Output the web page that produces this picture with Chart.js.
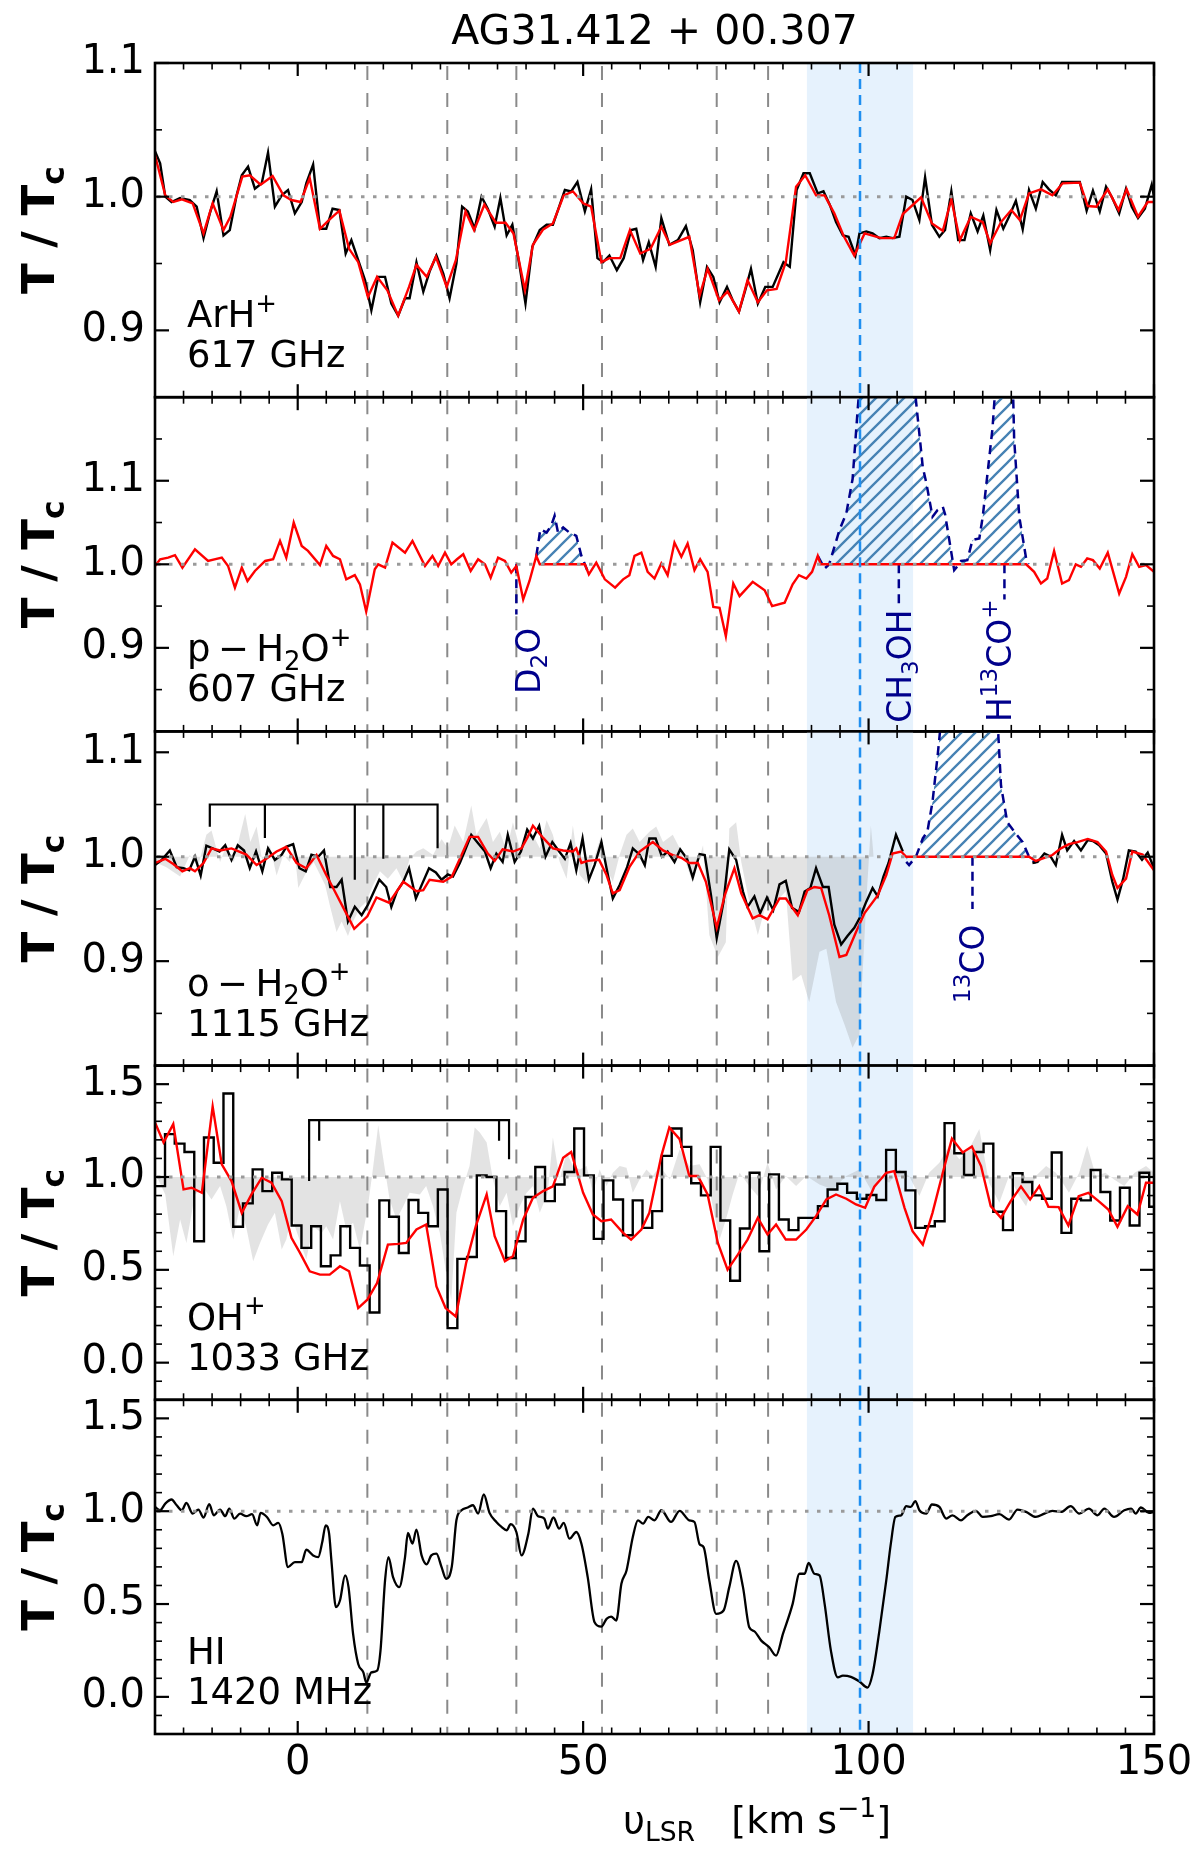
<!DOCTYPE html>
<html><head><meta charset="utf-8">
<script src="https://cdn.jsdelivr.net/npm/chart.js@4.4.1/dist/chart.umd.min.js"></script>
<style>
html,body{margin:0;padding:0;background:#fff;}
#wrap{position:relative;width:1200px;height:1851px;background:#fff;}
#wrap canvas{position:absolute;left:0;top:0;}
</style>
</head><body><div id="wrap"></div>
<script>
// ---------------- data ----------------
const xTickValues = [0, 50, 100, 150];
const yTicksNarrow = [0.9, 1.0, 1.1];
const yTicksWide = [0.0, 0.5, 1.0, 1.5];
const cloudVel = [12.2, 26.2, 38.3, 53.3, 73.4, 82.4];
const sourceVel = 98.5;
const sourceRange = [89.2, 107.8];

// ArH+ 617 GHz
const arhObs = [[-25.0,1.034],[-24.1,1.025],[-23.2,1.000],[-22.1,0.996],[-20.6,0.999],[-18.9,0.9975],[-17.7,0.9925],[-16.5,0.969],[-15.4,0.9875],[-14.2,1.004],
[-13.0,0.971],[-11.9,0.975],[-10.7,1.001],[-9.8,1.016],[-8.7,1.0225],[-7.5,1.006],[-6.3,1.010],[-5.2,1.033],[-4.0,0.9925],[-2.8,1.001],
[-1.7,1.005],[-0.5,0.9875],[0.7,0.996],[1.5,1.010],[2.7,1.024],[3.9,0.976],[5.0,0.976],[6.1,0.991],[7.3,0.990],[8.4,0.9575],
[9.4,0.9675],[10.6,0.9525],[11.8,0.9375],[12.9,0.915],[14.1,0.940],[15.3,0.940],[16.4,0.920],[17.6,0.911],[18.8,0.924],[19.6,0.924],
[20.8,0.951],[22.0,0.929],[23.1,0.944],[24.3,0.956],[25.5,0.9425],[26.6,0.924],[27.8,0.950],[28.8,0.9925],[29.8,0.989],[31.0,0.976],
[32.2,1.000],[33.3,0.991],[34.5,0.9775],[35.5,0.999],[36.6,0.971],[37.6,0.979],[38.8,0.950],[39.9,0.920],[41.1,0.9625],[42.4,0.975],
[43.6,0.979],[44.7,0.979],[45.8,0.9925],[46.8,1.005],[47.9,1.004],[49.0,1.011],[50.3,0.989],[51.4,1.0055],[52.5,0.954],[53.5,0.951],
[54.6,0.956],[55.9,0.945],[57.1,0.954],[58.4,0.975],[59.3,0.976],[60.5,0.9525],[61.5,0.966],[62.7,0.9475],[63.7,0.984],[65.1,0.964],
[66.6,0.9675],[68.0,0.978],[69.2,0.960],[70.5,0.921],[71.7,0.9475],[72.8,0.940],[73.9,0.921],[75.2,0.9325],[76.2,0.9225],[77.3,0.914],
[78.4,0.930],[79.4,0.946],[80.6,0.920],[81.9,0.9325],[83.2,0.9325],[85.1,0.951],[86.2,0.9475],[87.4,1.005],[88.6,1.0175],[89.7,1.0175],[91.1,1.0025],
[92.1,1.004],[93.2,0.994],[94.3,0.981],[95.5,0.971],[96.5,0.970],[97.7,0.956],[98.4,0.9725],[99.6,0.974],[100.7,0.9725],[101.9,0.969],
[103.1,0.970],[104.2,0.969],[105.4,0.970],[106.6,1.000],[107.7,0.9975],[108.9,0.9825],[109.9,1.0145],[111.1,0.979],[112.4,0.970],[113.4,0.975],
[114.5,1.004],[115.7,0.9675],[116.8,0.9675],[117.9,0.9875],[119.1,0.974],[120.1,0.986],[121.3,0.960],[122.4,0.990],[123.6,0.976],[124.6,0.985],
[125.8,0.997],[127.0,0.9755],[128.1,1.005],[129.3,0.991],[130.5,1.011],[131.6,1.0055],[132.8,1.001],[133.9,1.011],[135.1,1.011],[137.0,1.011],
[138.2,0.9895],[139.3,1.0045],[140.5,0.989],[141.6,1.0075],[142.7,0.999],[143.9,0.9875],[145.1,1.006],[146.1,0.9925],[147.2,0.984],[148.4,0.991],
[149.6,1.009],[150.0,1.000]];
const arhFit = [[-25,1.031],[-23.2,1.001],[-21.8,0.996],[-20.3,0.998],[-18.4,0.995],[-16.5,0.9725],[-14.9,0.995],[-13.0,0.975],[-11.8,0.985],[-9.7,1.015],
[-8.4,1.016],[-6.5,1.009],[-4.4,1.0155],[-2.5,1.001],[-1.1,0.9975],[0.5,0.996],[2.1,1.014],[3.9,0.976],[5.6,0.983],[7.3,0.9895],[9.0,0.961],
[10.6,0.951],[12.3,0.925],[13.9,0.940],[15.7,0.930],[17.6,0.911],[19.5,0.9325],[20.8,0.949],[22.6,0.940],[24.2,0.955],[26.1,0.9325],
[27.7,0.9525],[29.4,0.989],[30.9,0.975],[32.7,0.994],[34.7,0.9805],[36.4,0.9805],[37.8,0.9725],[39.8,0.930],[41.2,0.964],[43.0,0.9755],
[44.7,0.980],[46.6,1.001],[48.2,1.004],[50.0,0.995],[51.4,0.9925],[53.2,0.951],[54.6,0.954],[56.5,0.954],[58.2,0.975],[60.0,0.9575],
[61.8,0.961],[63.7,0.9775],[65.2,0.964],[68.6,0.970],[70.4,0.926],[71.8,0.946],[73.8,0.9225],[75.3,0.929],[77.3,0.914],[78.8,0.9375],
[80.6,0.921],[82.2,0.930],[83.9,0.931],[85.5,0.951],[87.3,1.0075],[88.9,1.016],[90.8,1.001],[92.3,1.001],[94.0,0.9875],[95.6,0.971],
[97.5,0.956],[99.3,0.9725],[102.2,0.969],[104.5,0.969],[106.0,0.987],[109.2,0.9995],[111.1,0.980],[113.0,0.9745],[114.5,0.998],[116.0,0.9675],
[117.9,0.985],[120.0,0.981],[121.3,0.965],[123.2,0.981],[125.0,0.990],[126.5,0.9825],[128.1,1.0025],[130.2,1.0055],[132.2,1.001],[134.0,1.010],
[137.0,1.0105],[138.4,0.993],[139.9,0.9925],[141.9,1.0055],[143.8,0.990],[145.2,1.0055],[147.2,0.985],[148.9,0.996],[150,0.996]];

// p-H2O+ 607 GHz
const pwFit = [[-25,0.998],[-24.1,1.006],[-22.7,1.008],[-21.5,1.011],[-20.2,0.996],[-18.0,1.018],[-15.7,1.004],[-13.3,1.008],[-12.2,0.998],[-11.0,0.972],
[-9.8,0.996],[-8.8,0.980],[-7.5,0.992],[-5.7,1.004],[-4.3,1.006],[-3.1,1.028],[-2.0,1.008],[-0.7,1.050],[0.7,1.022],[1.8,1.016],
[3.9,0.999],[5.0,1.022],[6.2,1.010],[7.4,1.006],[8.5,0.982],[10.0,0.987],[10.9,0.976],[12.0,0.9435],[13.5,0.994],[14.1,1.000],
[15.3,0.996],[16.6,1.026],[18.8,1.014],[20.1,1.028],[22.3,0.998],[23.6,1.010],[24.6,0.998],[25.8,1.014],[26.9,1.000],[27.9,1.006],
[29.0,1.012],[30.3,0.992],[31.6,1.006],[32.8,1.000],[33.8,0.984],[35.1,1.008],[36.3,1.004],[37.4,0.990],[38.3,0.998],[39.5,0.958],
[40.6,0.980],[41.8,1.010],[42.4,1.000],[50.3,1.000],[51.0,0.988],[52.3,1.002],[53.8,0.982],[55.6,0.972],[57.0,0.982],[58.1,0.987],
[59.0,1.010],[60.2,1.014],[61.3,0.991],[62.5,0.983],[63.7,1.001],[64.8,0.987],[66.0,1.026],[67.2,1.009],[68.3,1.025],[69.5,0.993],
[70.5,1.006],[71.8,0.991],[72.8,0.949],[73.9,0.948],[75.0,0.914],[76.3,0.977],[77.4,0.962],[79.7,0.979],[81.8,0.969],[83.1,0.950],
[85.3,0.954],[86.7,0.976],[87.8,0.987],[89.1,0.983],[90.1,0.991],[91.1,1.010],[91.6,1.000],[127.6,1.000],[129.0,0.991],[130.2,0.977],
[131.3,0.983],[132.5,1.016],[133.9,0.977],[135.1,0.981],[136.3,1.000],[137.2,0.997],[138.3,1.007],[139.3,1.005],[140.5,0.995],[141.9,1.014],
[143.9,0.965],[145.1,0.985],[146.2,1.012],[147.4,0.997],[148.6,0.999],[150.0,0.991]];
const d2oLine = [[41.8,1.010],[42.5,1.042],[43.6,1.038],[44.4,1.046],[45.0,1.058],[45.6,1.038],[46.5,1.044],[47.6,1.038],[48.8,1.034],[49.7,1.010],[50.3,1.000],[51.0,0.988]];
const ch3ohLine = [[91.1,1.010],[92.3,0.995],[93.1,1.000],[94.9,1.041],[96.1,1.061],[97.2,1.102],[98.1,1.186],[99.0,1.260],[103.5,1.300],[108.0,1.250],
[108.3,1.196],[109.5,1.116],[110.1,1.098],[111.2,1.057],[112.1,1.065],[113.0,1.069],[113.4,1.060],[115.0,0.993],[115.6,0.998],[116.2,1.004],
[117.3,1.005],[118.2,1.029],[119.4,1.031],[120.0,1.057],[121.7,1.162],[122.5,1.240],[124.0,1.280],[125.2,1.240],[125.5,1.150],[126.4,1.057],
[127.6,1.007],[128.0,1.000]];
const contamVel2 = [38.3, 105.3, 123.8];
const contamEnd2 = [0.94, 0.952, 0.958];
const contamText2 = [[['D',0],['2',1],['O',0]], [['CH',0],['3',1],['OH',0]], [['H',0],['13',2],['CO',0],['+',2]]];

// o-H2O+ 1115 GHz
const owObs = [[-25,0.992],[-23.8,0.997],[-22.4,1.006],[-21.2,0.990],[-20.0,0.989],[-19.0,0.987],[-18.0,1.000],[-17.0,0.982],[-16.0,1.0105],[-14.9,1.008],
[-13.7,1.005],[-12.7,1.011],[-11.6,0.997],[-10.5,1.011],[-9.4,1.006],[-8.4,0.989],[-7.3,1.005],[-6.2,0.986],[-5.2,1.008],[-4.0,0.997],
[-2.8,1.002],[-2.0,1.0095],[-0.8,1.012],[0.3,0.989],[1.4,0.986],[2.4,1.002],[3.6,1.000],[4.6,1.006],[5.7,0.971],[6.8,0.971],
[7.7,0.978],[8.8,0.938],[10.0,0.952],[11.2,0.944],[12.3,0.954],[14.3,0.978],[15.5,0.971],[16.4,0.952],[17.4,0.967],[18.5,0.976],
[19.5,0.989],[20.7,0.960],[21.8,0.974],[23.0,0.989],[24.2,0.985],[25.2,0.978],[26.3,0.983],[27.2,0.981],[28.4,0.994],[29.3,1.006],
[30.4,1.021],[31.6,1.013],[32.8,1.005],[33.8,0.989],[34.8,1.003],[35.9,0.995],[36.8,1.021],[38.0,0.995],[39.1,1.005],[40.2,1.026],
[41.2,1.0175],[42.3,1.0296],[43.4,1.000],[44.6,1.014],[45.8,1.005],[46.8,0.998],[47.8,1.013],[48.8,0.987],[49.9,1.0175],[51.0,0.978],
[52.0,0.992],[53.2,1.014],[54.1,0.989],[55.2,0.960],[56.4,0.973],[57.7,0.990],[58.7,1.008],[59.9,1.002],[60.8,0.992],[61.6,1.0175],
[62.7,1.0175],[63.8,1.000],[64.8,1.005],[66.0,0.995],[67.0,1.007],[68.2,0.998],[69.2,0.980],[70.4,1.0025],[71.3,1.0016],[72.4,0.963],
[73.4,0.922],[74.6,0.957],[75.6,1.007],[76.8,0.997],[78.0,0.9666],[78.8,0.952],[80.0,0.962],[81.0,0.946],[82.2,0.961],[83.3,0.949],
[84.4,0.9735],[85.5,0.977],[86.6,0.951],[87.8,0.947],[88.8,0.9666],[89.8,0.970],[90.8,0.989],[92.0,0.971],[93.0,0.971],[94.0,0.935],
[95.2,0.916],[96.3,0.924],[97.5,0.932],[98.5,0.942],[99.6,0.957],[100.7,0.970],[101.6,0.962],[102.6,0.981],[103.5,0.994],[104.8,1.021],
[106.0,1.005],[117.0,null],[128.7,0.994],[129.6,0.995],[130.8,1.003],[131.9,1.000],[132.8,0.992],[133.9,1.021],[134.8,1.006],[136.0,1.015],
[137.2,1.006],[138.4,1.016],[139.3,1.015],[140.4,1.011],[141.6,1.003],[142.7,0.976],[143.6,0.959],[144.6,0.979],[145.6,1.006],[146.8,1.005],
[147.9,0.997],[148.9,1.004],[150,0.989]];
const owFit = [[-25,0.994],[-23.2,0.998],[-21.8,0.993],[-20.2,0.986],[-18.9,0.989],[-18.0,0.986],[-16.5,0.994],[-15.1,1.008],[-13.6,1.006],[-11.6,1.008],
[-9.0,1.002],[-7.2,0.992],[-5.5,0.998],[-3.7,1.005],[-2.0,1.0095],[-0.2,0.994],[1.5,0.989],[3.3,1.0016],[5.0,0.9825],[6.2,0.970],
[8.0,0.951],[9.9,0.931],[12.2,0.943],[13.8,0.961],[16.0,0.956],[18.5,0.976],[20.8,0.967],[22.0,0.968],[23.1,0.978],[25.5,0.976],
[27.0,0.981],[28.7,1.0016],[30.1,1.019],[31.6,1.019],[33.3,1.003],[34.5,0.996],[35.9,1.007],[37.7,1.005],[39.2,1.008],[40.3,1.019],
[41.2,1.0296],[43.0,1.018],[44.7,1.008],[46.5,1.006],[48.2,1.005],[48.8,1.008],[49.7,0.994],[50.8,0.996],[52.8,0.997],[54.1,0.9825],
[55.2,0.965],[56.4,0.968],[58.1,0.990],[59.9,1.005],[62.2,1.014],[64.0,1.006],[65.7,1.0016],[67.2,0.999],[68.6,0.994],[70.1,0.994],
[71.5,0.976],[73.4,0.932],[74.8,0.963],[76.5,0.989],[77.7,0.965],[79.7,0.941],[80.9,0.944],[82.3,0.940],[84.4,0.960],[85.5,0.960],
[87.6,0.944],[89.3,0.968],[90.5,0.971],[91.7,0.970],[93.1,0.944],[94.9,0.904],[96.1,0.906],[97.8,0.928],[99.3,0.946],[101.6,0.963],
[103.1,0.9825],[104.2,1.003],[105.7,1.005],[106.6,1.000],[128.1,1.000],[129.3,0.996],[130.8,0.999],[132.2,1.0016],[133.7,1.008],[135.1,1.012],
[136.6,1.014],[138.4,1.017],[140.1,1.014],[141.6,1.005],[142.7,0.9825],[143.6,0.970],[145.1,0.979],[146.2,1.005],[148.0,1.002],[150,0.987]];
const owRef = [[-25,0.995],[-23.0,0.990],[-20.6,0.981],[-18.9,1.0016],[-17.5,0.990],[-16.0,1.021],[-15.1,1.025],[-13.6,0.995],[-12.5,1.011],[-11.2,0.995],
[-10.1,1.021],[-9.2,1.041],[-8.3,1.014],[-7.2,1.029],[-6.0,0.989],[-4.9,1.011],[-3.7,0.982],[-2.5,1.002],[-1.4,0.995],[-0.6,1.008],
[0.1,0.970],[1.3,0.983],[2.8,0.995],[4.8,0.973],[5.6,0.954],[6.8,0.928],[7.7,0.938],[8.8,0.924],[9.7,0.938],[10.9,0.951],
[12.0,0.957],[13.2,0.973],[14.4,0.986],[15.8,0.979],[17.3,0.989],[18.5,0.976],[19.6,0.998],[20.8,1.005],[22.0,1.008],[23.7,1.0016],
[25.2,1.017],[26.3,1.008],[27.5,1.030],[29.0,1.014],[30.4,1.049],[31.3,1.021],[33.1,1.037],[34.2,1.014],[35.4,1.024],[36.6,1.006],
[37.7,1.033],[38.9,1.008],[40.1,1.027],[41.2,1.021],[42.4,1.008],[43.6,1.035],[44.7,1.021],[45.9,0.995],[47.1,0.979],[48.2,1.030],
[49.4,0.9825],[50.6,0.975],[51.7,0.995],[53.2,1.021],[54.1,0.989],[55.2,0.976],[56.4,1.002],[57.6,1.021],[58.7,1.027],[59.9,1.014],
[61.6,1.024],[62.8,1.029],[64.0,1.014],[65.7,1.021],[67.5,1.002],[69.2,0.975],[71.0,1.011],[72.1,0.925],[73.6,0.904],[75.0,0.918],
[75.6,1.027],[76.8,1.033],[77.7,0.995],[79.1,0.957],[80.6,0.925],[82.0,0.954],[83.8,0.957],[85.5,0.967],[86.7,0.881],[88.2,0.887],
[89.6,0.861],[91.4,0.909],[92.6,0.912],[94.3,0.861],[95.8,0.839],[97.2,0.817],[98.4,0.830],[99.6,0.957],[100.4,1.030],[100.9,1.000]];
const co13Line = [[106.6,0.995],[107.1,0.992],[108.3,1.000],[109.5,1.0175],[110.3,1.024],[111.2,1.0525],[112.1,1.097],[112.7,1.130],[115,1.200],[120,1.200],
[122.6,1.130],[123.2,1.068],[124.3,1.033],[125.8,1.022],[127.0,1.014],[128.1,1.000],[129.3,0.994]];
const hfsVel3 = [-15.4, -5.75, 10.0, 15.0, 24.5];
const hfsLow3 = [1.0287, 1.018, 0.978, 0.998, 1.008];
const hfsTop3 = 1.05;
const contamVel3 = [118.2];
const contamEnd3 = [0.95];
const contamText3 = [[['13',2],['CO',0]]];

// OH+ 1033 GHz (channel centres, stepped)
const ohObs = [[-25.0,0.951],[-24.10,0.951],[-22.39,1.231],[-20.69,1.180],[-18.98,1.135],[-17.27,0.654],[-15.57,1.213],[-13.86,1.077],[-12.15,1.450],[-10.44,0.732],[-8.74,0.858],
[-7.03,1.041],[-5.32,0.924],[-3.62,1.023],[-1.91,0.987],[-0.20,0.739],[1.51,0.618],[3.21,0.735],[4.92,0.519],[6.63,0.578],[8.33,0.735],
[10.04,0.618],[11.75,0.523],[13.45,0.270],[15.16,0.874],[16.87,0.786],[18.58,0.591],[20.28,0.876],[21.99,0.807],[23.70,0.735],[25.40,0.933],
[27.11,0.186],[28.82,0.559],[30.52,0.569],[32.23,1.009],[33.94,1.000],[35.65,0.816],[37.35,0.564],[39.06,0.654],[40.77,0.892],[42.47,1.054],
[44.18,0.870],[45.89,0.960],[47.59,1.027],[49.30,1.261],[51.01,1.009],[52.72,0.667],[54.42,0.982],[56.13,0.879],[57.84,0.686],[59.54,0.874],
[61.25,0.726],[62.96,0.816],[64.66,1.114],[66.37,1.261],[68.08,1.162],[69.79,0.966],[71.49,0.901],[73.20,1.162],[74.91,0.766],[76.61,0.441],
[78.32,0.723],[80.03,1.023],[81.73,0.600],[83.44,1.014],[85.15,0.771],[86.86,0.714],[88.56,0.780],[90.27,0.780],[91.98,0.843],[93.68,0.933],
[95.39,0.964],[97.10,0.915],[98.80,0.883],[100.51,0.903],[102.22,0.876],[103.93,1.146],[105.63,1.027],[107.34,0.928],[109.05,0.726],[110.75,0.735],
[112.46,0.762],[114.17,1.290],[115.87,1.128],[117.58,1.011],[119.29,1.135],[121.00,1.180],[122.70,0.813],[124.41,0.714],[126.12,1.020],[127.82,0.973],
[129.53,0.901],[131.24,0.883],[132.94,1.132],[134.65,0.699],[136.36,0.883],[138.07,0.874],[139.77,1.038],[141.48,0.919],[143.19,0.766],[144.89,0.942],
[146.60,0.739],[148.31,1.023],[150.01,0.840]];
const ohFit = [[-25,1.294],[-23.5,1.186],[-21.8,1.285],[-20.0,0.933],[-18.6,0.942],[-16.8,0.915],[-14.9,1.380],[-13.3,1.068],[-11.6,0.978],[-9.8,0.807],
[-8.1,0.906],[-6.3,0.996],[-4.6,0.969],[-2.8,0.870],[-1.1,0.672],[0.4,0.591],[2.1,0.492],[3.9,0.474],[5.6,0.474],[7.4,0.519],
[9.0,0.492],[10.6,0.294],[12.2,0.339],[13.9,0.429],[15.8,0.636],[17.6,0.640],[19.0,0.645],[20.8,0.717],[22.5,0.744],[24.3,0.411],
[25.9,0.294],[27.7,0.249],[29.5,0.537],[31.2,0.735],[33.1,0.906],[34.5,0.681],[36.3,0.546],[37.7,0.573],[39.5,0.771],[41.2,0.888],
[43.0,0.924],[44.7,0.950],[46.5,1.104],[47.9,1.135],[50.0,0.915],[51.7,0.798],[53.2,0.762],[54.9,0.771],[57.0,0.699],[58.4,0.663],
[60.2,0.717],[61.6,0.807],[63.7,1.114],[65.1,1.267],[66.9,1.204],[68.6,1.005],[70.1,1.005],[71.8,0.906],[73.6,0.645],[75.3,0.501],
[77.1,0.582],[78.8,0.663],[80.6,0.780],[82.3,0.690],[83.8,0.744],[85.5,0.663],[87.3,0.663],[89.1,0.717],[90.8,0.789],[92.6,0.879],
[94.3,0.906],[96.1,0.883],[97.8,0.852],[99.4,0.834],[101.0,0.948],[103.1,1.023],[104.5,1.032],[106.3,0.834],[107.7,0.708],[109.5,0.636],
[111.2,0.807],[113.0,1.023],[114.6,1.207],[116.5,1.132],[118.1,1.164],[119.7,1.059],[121.4,0.843],[123.2,0.780],[124.9,0.870],[126.7,0.948],
[128.3,0.879],[129.9,0.951],[131.5,0.840],[133.3,0.838],[135.0,0.739],[136.8,0.897],[138.5,0.915],[140.3,0.870],[142.0,0.825],[143.6,0.732],
[145.4,0.843],[147.1,0.798],[148.6,0.969],[150,0.969]];
const ohRef = [[-25,1.023],[-23.2,0.906],[-21.8,0.573],[-20.6,0.771],[-19.5,0.645],[-18.0,0.906],[-16.5,0.942],[-15.1,0.879],[-13.6,0.951],[-12.5,0.843],
[-11.3,0.663],[-10.1,0.843],[-9.0,0.726],[-7.8,0.546],[-6.6,0.645],[-5.2,0.744],[-4.0,0.807],[-2.8,0.609],[-2.0,0.663],[-1.1,0.789],
[0.1,0.681],[1.5,0.555],[2.7,0.735],[4.2,0.699],[5.0,0.735],[6.2,0.663],[7.4,0.870],[8.5,0.717],[9.7,0.753],[10.9,0.609],
[12.3,0.843],[13.2,1.050],[14.1,1.279],[14.9,1.114],[16.1,0.879],[17.3,0.771],[18.5,0.843],[19.6,0.915],[21.4,0.906],[22.5,0.951],
[23.7,0.843],[24.9,0.699],[26.0,0.483],[26.9,0.339],[27.8,0.807],[29.0,0.951],[30.1,1.059],[31.0,1.267],[31.9,1.240],[33.1,1.186],
[34.2,0.987],[35.4,0.843],[36.6,0.915],[37.7,0.735],[38.9,0.843],[40.1,0.915],[41.2,0.951],[42.4,0.807],[43.8,0.915],[44.7,1.213],
[45.9,0.987],[47.1,1.132],[48.2,1.059],[49.4,1.041],[50.6,1.059],[51.7,0.915],[52.9,1.041],[54.1,0.951],[55.2,1.023],[56.4,1.059],
[57.6,1.050],[58.7,0.915],[59.9,0.987],[61.1,1.041],[62.2,1.005],[63.4,1.059],[65.2,0.987],[66.9,1.150],[68.6,1.059],[70.4,1.068],
[71.8,0.987],[72.7,0.843],[73.9,0.663],[75.0,0.770],[76.2,0.906],[77.4,1.023],[79.1,0.951],[80.6,0.897],[82.3,1.077],[83.8,0.933],
[85.5,1.005],[87.3,0.951],[89.1,1.005],[91.4,0.960],[93.7,0.933],[96.1,1.005],[98.4,1.041],[100.7,0.915],[101.9,1.005],[103.6,0.969],
[105.4,1.041],[107.1,1.005],[108.9,0.897],[110.6,1.023],[112.4,1.077],[114.1,1.168],[115.9,1.095],[117.6,1.150],[119.4,1.258],[121.1,0.969],
[122.9,0.861],[124.6,1.005],[126.4,0.897],[127.6,0.843],[129.3,1.005],[131.1,1.059],[132.8,1.023],[134.0,0.969],[135.1,0.915],[136.9,1.023],
[138.3,1.168],[139.8,1.005],[141.5,1.023],[143.0,0.987],[144.8,0.951],[146.6,1.023],[148.6,1.059],[150,1.023]];
const hfsVel4 = [2.0, 3.76, 35.27, 37.02];
const hfsLow4 = [0.978, 1.195, 1.195, 1.095];
const hfsTop4 = 1.306;

// HI 1420 MHz
const hiObs = [[-25,1.023],[-24.1,1.005],[-23.2,1.041],[-22.1,1.063],[-21.2,1.032],[-20.3,1.005],[-19.5,1.045],[-18.4,0.987],[-17.4,1.009],[-16.5,0.966],
[-15.5,1.038],[-14.7,0.978],[-13.6,1.009],[-12.7,0.973],[-12.0,1.014],[-11.1,0.960],[-10.1,0.987],[-9.0,0.973],[-8.0,0.984],[-7.1,0.924],
[-6.5,0.991],[-5.4,0.969],[-4.3,0.924],[-3.4,0.937],[-2.7,0.879],[-1.7,0.699],[-0.5,0.726],[0.7,0.726],[1.5,0.793],[2.7,0.762],
[3.6,0.753],[4.3,0.834],[4.9,0.924],[5.5,0.879],[5.9,0.735],[6.7,0.483],[7.4,0.519],[8.3,0.654],[8.9,0.591],[9.7,0.339],
[10.6,0.177],[11.5,0.132],[12.0,0.077],[12.9,0.132],[13.9,0.141],[14.5,0.249],[15.3,0.627],[15.9,0.753],[16.7,0.645],[17.8,0.591],
[18.8,0.753],[19.3,0.883],[20.1,0.825],[20.8,0.901],[21.7,0.762],[22.6,0.714],[23.4,0.762],[24.3,0.771],[25.2,0.699],[26.0,0.636],
[27.0,0.703],[27.8,0.951],[28.7,1.005],[29.8,1.020],[30.7,1.032],[31.6,0.987],[32.6,1.090],[33.6,0.991],[34.8,0.942],[35.7,0.915],
[36.6,0.897],[37.3,0.930],[38.3,0.888],[39.2,0.762],[40.4,0.879],[41.2,1.014],[42.1,0.973],[43.2,0.960],[43.8,0.906],[44.8,0.966],
[45.8,0.906],[46.6,0.937],[47.6,0.852],[48.8,0.888],[49.7,0.825],[50.8,0.645],[52.0,0.402],[53.2,0.378],[54.1,0.420],[54.9,0.432],
[55.8,0.411],[56.7,0.609],[57.6,0.681],[58.7,0.861],[59.6,0.951],[60.5,0.933],[61.4,0.969],[62.5,0.951],[63.7,1.005],[65.4,0.942],
[66.9,1.002],[68.6,0.951],[69.5,0.942],[70.4,0.822],[71.1,0.807],[72.1,0.627],[73.3,0.447],[74.6,0.465],[75.6,0.591],[76.8,0.732],
[78.0,0.591],[79.1,0.375],[80.0,0.353],[81.2,0.303],[82.6,0.267],[83.8,0.222],[85.0,0.339],[86.7,0.501],[87.9,0.663],[88.8,0.663],
[89.5,0.721],[90.5,0.663],[91.4,0.654],[92.3,0.501],[93.4,0.249],[94.6,0.105],[95.5,0.114],[96.9,0.108],[98.4,0.083],[99.8,0.050],
[100.7,0.123],[101.9,0.357],[103.1,0.627],[103.9,0.825],[104.7,0.969],[105.7,0.978],[106.6,1.027],[107.4,1.023],[108.2,1.054],[108.9,1.005],
[110.1,0.987],[111.1,1.036],[112.4,1.023],[113.6,0.960],[114.7,0.978],[116.2,0.951],[117.3,0.978],[118.8,1.002],[120.0,0.969],[121.4,0.973],
[122.9,0.984],[124.6,0.955],[126.1,1.009],[127.6,0.996],[129.3,0.969],[130.8,0.987],[132.2,1.002],[133.7,0.996],[135.4,1.027],[136.9,0.987],
[138.6,1.014],[140.1,0.978],[141.3,1.014],[143.0,0.969],[144.8,1.005],[146.0,1.014],[146.8,0.987],[147.7,1.020],[149.1,0.991],[150,0.996]];

// ---------------- layout / style ----------------
const FONT = '"DejaVu Sans", "Noto Sans", sans-serif';
Chart.defaults.font.family = FONT;
const PAGE_W = 1200, PAGE_H = 1851;
const RIGHT_PAD = 46, AXIS_W = 155;
const panelTops = [63, 397.2, 731.4, 1065.6, 1399.8];
const PANEL_H = 334.2;
const RED = '#ff0000', NAVY = '#00008b';
const TICK_FONT = 40;

const pts = arr => arr.map(p => ({x: p[0], y: p[1]}));
function lineDs(data, color, width, extra) {
  return Object.assign({data: pts(data), borderColor: color, borderWidth: width, pointRadius: 0,
    fill: false, tension: 0, clip: 0, spanGaps: false}, extra || {});
}
function combPts(vels, lows, top) {
  const out = [[vels[0], lows[0]], [vels[0], top]];
  for (let i = 1; i < vels.length; i++) { out.push([vels[i], top], [vels[i], lows[i]], [vels[i], top]); }
  out.pop();
  return out;
}
function markerDs(vel, end) {
  return lineDs([[vel, 1.0], [vel, end]], NAVY, 2.5, {borderDash: [9, 6]});
}

function seg(ctx, x0, y0, x1, y1) { ctx.beginPath(); ctx.moveTo(x0, y0); ctx.lineTo(x1, y1); ctx.stroke(); }
function drawRich(ctx, parts, x, y, size, align, weight) {
  const f = s => `${weight || 'normal'} ${s}px ${FONT}`;
  let w = 0;
  for (const [t, m] of parts) { ctx.font = f(m ? size * 0.7 : size); w += ctx.measureText(t).width; }
  let cx = align === 'center' ? x - w / 2 : align === 'right' ? x - w : x;
  ctx.textAlign = 'left'; ctx.textBaseline = 'alphabetic';
  for (const [t, m] of parts) {
    const s = m ? size * 0.7 : size;
    ctx.font = f(s);
    const dy = m === 1 ? size * 0.22 : m === 2 ? -size * 0.42 : 0;
    ctx.fillText(t, cx, y + dy);
    cx += ctx.measureText(t).width;
  }
}
function rotated(ctx, parts, cx, cy, size, align, weight, color) {
  ctx.save();
  ctx.fillStyle = color;
  ctx.translate(cx + size * 0.36, cy);
  ctx.rotate(-Math.PI / 2);
  drawRich(ctx, parts, 0, 0, size, align, weight);
  ctx.restore();
}
function makeHatch(ctx) {
  const c = document.createElement('canvas'); c.width = 14; c.height = 14;
  const g = c.getContext('2d');
  g.strokeStyle = '#4682b4'; g.lineWidth = 2.3;
  g.beginPath();
  g.moveTo(-1, 15); g.lineTo(15, -1);
  g.moveTo(-8, 8); g.lineTo(8, -8);
  g.moveTo(6, 22); g.lineTo(22, 6);
  g.stroke();
  return ctx.createPattern(c, 'repeat');
}

function buildPanels(hatch) {
  return [
    { yMin: 0.85, yMax: 1.1, yTicks: yTicksNarrow, minor: 0.05,
      label: [[['ArH', 0], ['+', 2]], [['617 GHz', 0]]],
      datasets: [lineDs(arhFit, RED, 2.4), lineDs(arhObs, '#000', 2.4)] },
    { yMin: 0.8, yMax: 1.2, yTicks: yTicksNarrow, minor: 0.05,
      label: [[['p\u2009\u2212\u2009H', 0], ['2', 1], ['O', 0], ['+', 2]], [['607 GHz', 0]]],
      contam: {vel: contamVel2, text: contamText2, textVel: [40.3, 105.3, 122.9], textTop: [0.924, 0.946, 0.958]},
      datasets: [lineDs(pwFit, RED, 2.4),
        markerDs(contamVel2[0], contamEnd2[0]), markerDs(contamVel2[1], contamEnd2[1]), markerDs(contamVel2[2], contamEnd2[2]),
        lineDs(d2oLine, NAVY, 2.5, {borderDash: [9, 6], fill: {value: 1}, backgroundColor: hatch}),
        lineDs(ch3ohLine, NAVY, 2.5, {borderDash: [9, 6], fill: {value: 1}, backgroundColor: hatch})] },
    { yMin: 0.8, yMax: 1.12, yTicks: yTicksNarrow, minor: 0.05,
      label: [[['o\u2009\u2212\u2009H', 0], ['2', 1], ['O', 0], ['+', 2]], [['1115 GHz', 0]]],
      contam: {vel: contamVel3, text: contamText3, textVel: [118.2], textTop: [0.935]},
      datasets: [lineDs(owFit, RED, 2.4), lineDs(owObs, '#000', 2.4),
        lineDs(combPts(hfsVel3, hfsLow3, hfsTop3), '#000', 2.2),
        markerDs(contamVel3[0], contamEnd3[0]),
        lineDs(co13Line, NAVY, 2.5, {borderDash: [9, 6], fill: {value: 1}, backgroundColor: hatch}),
        lineDs(owRef, 'rgba(0,0,0,0)', 1, {fill: {value: 1}, backgroundColor: 'rgba(140,140,140,0.24)'})] },
    { yMin: -0.2, yMax: 1.6, yTicks: yTicksWide, minor: 0.1,
      label: [[['OH', 0], ['+', 2]], [['1033 GHz', 0]]],
      datasets: [lineDs(ohFit, RED, 2.4), lineDs(ohObs, '#000', 2.4, {stepped: 'middle'}),
        lineDs(combPts(hfsVel4, hfsLow4, hfsTop4), '#000', 2.2),
        lineDs(ohRef, 'rgba(0,0,0,0)', 1, {fill: {value: 1}, backgroundColor: 'rgba(140,140,140,0.24)'})] },
    { yMin: -0.2, yMax: 1.6, yTicks: yTicksWide, minor: 0.1,
      label: [[['HI', 0]], [['1420 MHz', 0]]],
      datasets: [lineDs(hiObs, '#000', 2.3, {cubicInterpolationMode: 'monotone'})] }
  ];
}

function makeDecor(cfg, idx, last) {
  return {
    id: 'decor' + idx,
    beforeDatasetsDraw(chart) {
      const {ctx, chartArea: a, scales: {x}} = chart;
      ctx.save();
      ctx.fillStyle = '#e6f2fd';
      const s0 = x.getPixelForValue(sourceRange[0]), s1 = x.getPixelForValue(sourceRange[1]);
      ctx.fillRect(s0, a.top, s1 - s0, a.bottom - a.top);
      ctx.strokeStyle = '#8a8a8a'; ctx.lineWidth = 2; ctx.setLineDash([14, 13]);
      for (const v of cloudVel) { const p = x.getPixelForValue(v); seg(ctx, p, a.top + 3, p, a.bottom); }
      ctx.restore();
    },
    afterDatasetsDraw(chart) {
      const {ctx, chartArea: a, scales: {x, y}} = chart;
      ctx.save();
      ctx.beginPath(); ctx.rect(a.left, a.top, a.right - a.left, a.bottom - a.top); ctx.clip();
      ctx.strokeStyle = '#9a9a9a'; ctx.lineWidth = 3; ctx.setLineDash([3.5, 8.5]);
      const yb = y.getPixelForValue(1); seg(ctx, a.left + 2, yb, a.right, yb);
      ctx.strokeStyle = '#1f8ff0'; ctx.lineWidth = 2.5; ctx.setLineDash([10, 6]);
      const ps = x.getPixelForValue(sourceVel); seg(ctx, ps, a.top, ps, a.bottom);
      ctx.restore();
      if (cfg.contam) {
        const c = cfg.contam;
        for (let i = 0; i < c.text.length; i++) {
          rotated(ctx, c.text[i], x.getPixelForValue(c.textVel[i]), y.getPixelForValue(c.textTop[i]), 33, 'right', 'normal', NAVY);
        }
      }
    },
    afterDraw(chart) {
      const {ctx, chartArea: a, scales: {x, y}} = chart;
      ctx.save();
      ctx.strokeStyle = '#000'; ctx.setLineDash([]);
      ctx.lineWidth = 2.6;
      ctx.strokeRect(a.left, a.top, a.right - a.left, a.bottom - a.top);
      for (let v = -25; v <= 150.001; v += 5) {
        const major = Math.abs(v % 50) < 1e-6;
        const len = major ? 13 : 6.5;
        ctx.lineWidth = major ? 2.2 : 1.6;
        const p = x.getPixelForValue(v);
        seg(ctx, p, a.bottom, p, a.bottom - len);
        seg(ctx, p, a.top, p, a.top + len);
      }
      const start = Math.ceil(cfg.yMin / cfg.minor - 1e-6) * cfg.minor;
      for (let v = start; v <= cfg.yMax + 1e-6; v += cfg.minor) {
        const major = cfg.yTicks.some(t => Math.abs(t - v) < 1e-6);
        const len = major ? 14 : 7;
        ctx.lineWidth = major ? 2.2 : 1.6;
        const p = y.getPixelForValue(v);
        seg(ctx, a.left, p, a.left + len, p);
        seg(ctx, a.right, p, a.right - len, p);
      }
      ctx.fillStyle = '#000';
      drawRich(ctx, cfg.label[0], 187, a.bottom - 70, 37, 'left');
      drawRich(ctx, cfg.label[1], 187, a.bottom - 30, 37, 'left');
      rotated(ctx, [['T / T', 0], ['c', 1]], 38, (a.top + a.bottom) / 2, 45, 'center', 'bold', '#000');
      if (idx === 0) {
        ctx.fillStyle = '#000';
        drawRich(ctx, [['AG31.412 + 00.307', 0]], (a.left + a.right) / 2, 44, 41, 'center');
      }
      if (last) {
        ctx.fillStyle = '#000';
        drawRich(ctx, [['\u03c5', 0], ['LSR', 1], ['   [km s', 0], ['\u22121', 2], [']', 0]], 757, 1833, 38, 'center');
      }
      ctx.restore();
    }
  };
}

const wrap = document.getElementById('wrap');
const canvases = [];
for (let i = 0; i < 5; i++) {
  const c = document.createElement('canvas');
  c.width = PAGE_W; c.height = PAGE_H;
  wrap.appendChild(c);
  canvases.push(c);
}
const hatch = makeHatch(canvases[0].getContext('2d'));
const panels = buildPanels(hatch);
panels.forEach((cfg, i) => {
  const last = i === 4;
  const top = panelTops[i];
  const bottom = top + PANEL_H;
  new Chart(canvases[i], {
    type: 'line',
    data: {datasets: cfg.datasets},
    options: {
      responsive: false, animation: false, devicePixelRatio: 1, events: [],
      layout: {padding: {left: 0, right: RIGHT_PAD, top: top, bottom: last ? 0 : PAGE_H - bottom}},
      plugins: {legend: {display: false}, tooltip: {enabled: false}},
      scales: {
        x: {type: 'linear', min: -25, max: 150, display: last,
          grid: {display: false, drawTicks: false}, border: {display: false},
          ticks: {color: '#000', font: {size: TICK_FONT}, padding: 6, maxRotation: 0},
          afterBuildTicks: s => { s.ticks = xTickValues.map(v => ({value: v})); },
          afterFit: s => { if (last) s.height = PAGE_H - bottom; }},
        y: {type: 'linear', min: cfg.yMin, max: cfg.yMax,
          grid: {display: false, drawTicks: false}, border: {display: false},
          ticks: {color: '#000', font: {size: TICK_FONT}, padding: 10, callback: v => Number(v).toFixed(1)},
          afterBuildTicks: s => { s.ticks = cfg.yTicks.map(v => ({value: v})); },
          afterFit: s => { s.width = AXIS_W; }}
      }
    },
    plugins: [makeDecor(cfg, i, last)]
  });
});
</script></body></html>
